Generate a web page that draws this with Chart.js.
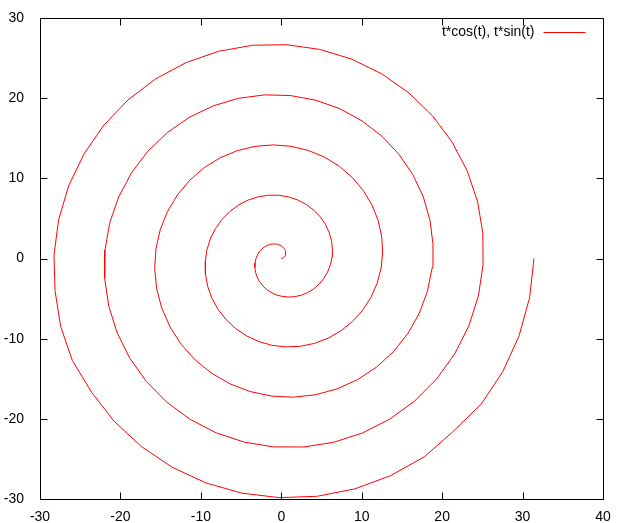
<!DOCTYPE html>
<html lang="en">
<head>
    <meta charset="UTF-8">
    <title>Spiral</title>
    <style>
        body { margin: 0; background: #fff; }
        #wrap { width: 617px; height: 523px; }
    </style>
</head>
<body>
<div id="wrap">
    <canvas id="myChart"></canvas>
</div>

<script src="https://cdn.jsdelivr.net/npm/chart.js"></script>

<script>
    const seriesLabel = 't*cos(t), t*sin(t)';

    const xTicks = [-30, -20, -10, 0, 10, 20, 30, 40];
    const yTicks = [-30, -20, -10, 0, 10, 20, 30];

    // points, in drawing order
    const xs = [
        0, 0.16, 0.30, 0.42, 0.51, 0.55, 0.55, 0.50, 0.38, 0.21,
        -0.01, -0.29, -0.60, -0.95, -1.32, -1.69, -2.06, -2.43, -2.73, -2.97,
        -3.16, -3.27, -3.28, -3.20, -3.02, -2.74, -2.34, -1.85, -1.27, -0.61,
        0.11, 0.88, 1.68, 2.49, 3.27, 4.01, 4.69, 5.28, 5.76, 6.11,
        6.31, 6.36, 6.23, 5.94, 5.47, 4.84, 4.05, 3.12, 2.07, 0.91,
        -0.31, -1.58, -2.86, -4.11, -5.30, -6.40, -7.37, -8.19, -8.83, -9.26,
        -9.46, -9.43, -9.15, -8.63, -7.86, -6.87, -5.68, -4.30, -2.76, -1.12,
        0.61, 2.37, 4.12, 5.81, 7.41, 8.85, 10.11, 11.15, 11.92, 12.42,
        12.60, 12.48, 12.03, 11.26, 10.19, 8.83, 7.22, 5.38, 3.36, 1.22,
        -1.01, -3.26, -5.48, -7.61, -9.59, -11.37, -12.90, -14.14, -15.04, -15.58,
        -15.74, -15.50, -14.86, -13.84, -12.45, -10.71, -8.67, -6.37, -3.87, -1.22,
        1.51, 4.24, 6.93, 9.48, 11.84, 13.95, 15.74, 17.16, 18.17, 18.75,
        18.86, 18.49, 17.66, 16.37, 14.63, 12.51, 10.04, 7.27, 4.27, 1.12,
        -2.10, -5.33, -8.46, -11.44, -14.17, -16.59, -18.62, -20.22, -21.33, -21.92,
        -21.96, -21.46, -20.41, -18.83, -16.76, -14.23, -11.31, -8.07, -4.58, -0.93,
        2.80, 6.50, 10.09, 13.48, 16.57, 19.28, 21.55, 23.31, 24.50, 25.09,
        25.06, 24.40, 23.11, 21.24, 18.81, 15.87, 12.50, 8.78, 4.79, 0.63,
        -3.59, -7.77, -11.81, -15.60, -19.04, -22.04, -24.52, -26.42, -27.68, -28.26,
        -28.13, -27.44, -25.99, -23.59, -20.78, -17.43, -13.60, -9.39, -4.90, -0.24,
        4.48, 9.14, 13.61, 17.79, 21.19, 24.85, 27.54, 29.56, 30.87, 31.42
    ];
    const ys = [
        0, 0.02, 0.10, 0.22, 0.37, 0.56, 0.77, 0.99, 1.20, 1.40,
        1.58, 1.71, 1.80, 1.82, 1.77, 1.65, 1.46, 1.19, 0.84, 0.42,
        -0.05, -0.57, -1.13, -1.71, -2.28, -2.85, -3.37, -3.84, -4.23, -4.54,
        -4.73, -4.81, -4.76, -4.58, -4.26, -3.80, -3.21, -2.50, -1.68, -0.78,
        0.20, 1.22, 2.26, 3.29, 4.28, 5.20, 6.03, 6.73, 7.29, 7.68,
        7.89, 7.89, 7.70, 7.29, 6.68, 5.87, 4.87, 3.72, 2.43, 1.03,
        -0.45, -1.96, -3.48, -4.95, -6.34, -7.62, -8.74, -9.66, -10.37, -10.84,
        -11.03, -10.95, -10.59, -9.95, -9.03, -7.86, -6.46, -4.85, -3.08, -1.18,
        0.80, 2.80, 4.79, 6.70, 8.49, 10.10, 11.50, 12.64, 13.48, 14.00,
        14.17, 13.99, 13.45, 12.56, 11.33, 9.78, 7.95, 5.89, 3.63, 1.23,
        -1.25, -3.74, -6.19, -8.53, -10.71, -12.65, -14.31, -15.64, -16.60, -17.16,
        -17.30, -17.00, -16.27, -15.11, -13.55, -11.62, -9.36, -6.83, -4.09, -1.19,
        1.79, 4.77, 7.68, 10.45, 13.00, 15.26, 17.17, 18.69, 19.75, 20.33,
        20.41, 19.98, 19.04, 17.61, 15.71, 13.38, 10.69, 7.68, 4.44, 1.04,
        -2.44, -5.90, -9.27, -12.45, -15.36, -17.93, -20.08, -21.76, -22.91, -23.50,
        -23.51, -22.93, -21.77, -20.04, -17.79, -15.06, -11.92, -8.43, -4.70, -0.79,
        3.18, 7.12, 10.94, 14.53, 17.79, 20.65, 23.03, 24.86, 26.08, 26.67,
        26.60, 25.85, 24.45, 22.42, 19.80, 16.66, 13.06, 9.10, 4.85, 0.45,
        -4.02, -8.44, -12.70, -16.68, -20.30, -23.43, -26.02, -27.99, -29.27, -29.83,
        -29.66, -28.74, -27.08, -24.73, -21.74, -18.17, -14.11, -9.66, -4.91, 0
    ];

    const points = xs.map((x, i) => ({x: x, y: ys[i]}));
    const font = {family: '"Liberation Sans", Arial, sans-serif', size: 14};

    // gnuplot style frame with inward ticks on all four sides, plus key
    const framePlugin = {
        id: 'frame',
        afterDraw(chart) {
            const c = chart.ctx;
            const a = chart.chartArea;
            const sx = chart.scales.x, sy = chart.scales.y;
            const L = Math.round(a.left) + 0.5, R = Math.round(a.right) + 0.5;
            const T = Math.round(a.top) + 0.5, B = Math.round(a.bottom) + 0.5;
            const tl = 7;
            c.save();
            c.strokeStyle = '#000';
            c.lineWidth = 1;
            c.beginPath();
            c.rect(L, T, R - L, B - T);
            xTicks.forEach(v => {
                const px = Math.round(sx.getPixelForValue(v)) + 0.5;
                c.moveTo(px, B); c.lineTo(px, B - tl);
                c.moveTo(px, T); c.lineTo(px, T + tl);
            });
            yTicks.forEach(v => {
                const py = Math.round(sy.getPixelForValue(v)) + 0.5;
                c.moveTo(L, py); c.lineTo(L + tl, py);
                c.moveTo(R, py); c.lineTo(R - tl, py);
            });
            c.stroke();

            // key
            c.font = font.size + 'px ' + font.family;
            c.fillStyle = '#000';
            c.textAlign = 'right';
            c.textBaseline = 'middle';
            c.fillText(seriesLabel, R - 69, T + 14);
            c.strokeStyle = '#ff0000';
            c.beginPath();
            c.moveTo(R - 60, T + 14);
            c.lineTo(R - 18, T + 14);
            c.stroke();
            c.restore();
        }
    };

    const ctx = document.getElementById('myChart');

    new Chart(ctx, {
        type: 'scatter',
        data: {
            datasets: [{
                label: seriesLabel,
                data: points,
                showLine: true,
                borderColor: '#ff0000',
                borderWidth: 1,
                pointRadius: 0,
                tension: 0,
                fill: false
            }]
        },
        options: {
            responsive: true,
            maintainAspectRatio: false,
            animation: false,
            layout: {padding: {top: 18, right: 14, left: 0, bottom: 0}},
            plugins: {
                legend: {display: false},
                tooltip: {enabled: false}
            },
            scales: {
                x: {
                    type: 'linear',
                    min: -30,
                    max: 40,
                    grid: {display: false},
                    border: {display: false},
                    afterFit(scale) { scale.height = 24; },
                    afterBuildTicks(scale) { scale.ticks = xTicks.map(v => ({value: v})); },
                    ticks: {color: '#000', font: font, padding: 2, maxRotation: 0, autoSkip: false}
                },
                y: {
                    type: 'linear',
                    min: -30,
                    max: 30,
                    grid: {display: false},
                    border: {display: false},
                    afterFit(scale) { scale.width = 40; },
                    afterBuildTicks(scale) { scale.ticks = yTicks.map(v => ({value: v})); },
                    ticks: {color: '#000', font: font, padding: 8, autoSkip: false}
                }
            }
        },
        plugins: [framePlugin]
    });
</script>

</body>
</html>
